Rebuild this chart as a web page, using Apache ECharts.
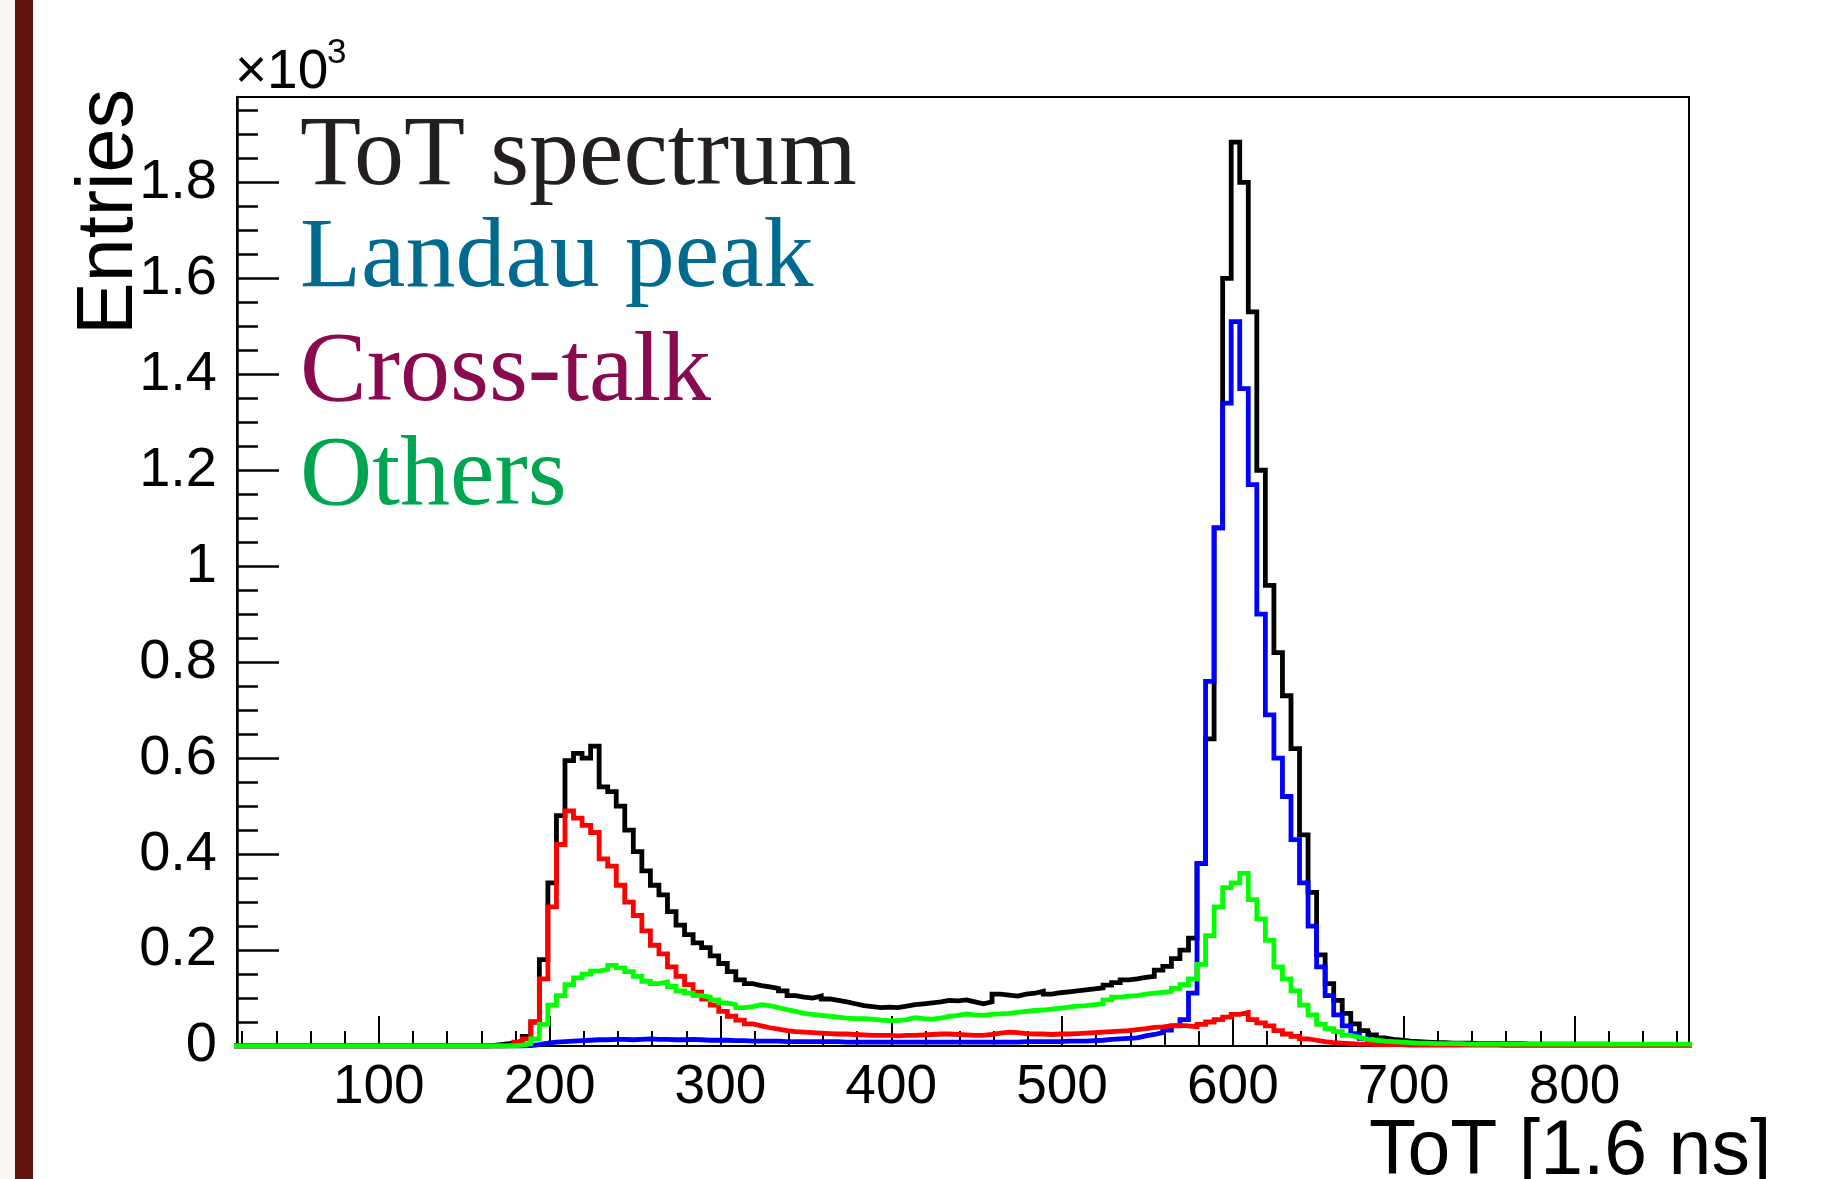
<!DOCTYPE html>
<html>
<head>
<meta charset="utf-8">
<script src="https://cdn.jsdelivr.net/npm/echarts@6/dist/echarts.min.js"></script>
<style>
html,body{margin:0;padding:0;background:#fff;}
#chart{width:1839px;height:1179px;}
</style>
</head>
<body>
<div id="chart"></div>
<script>
// Histogram binning (ToT units): bin k covers [BIN_START + k*BIN_WIDTH, +BIN_WIDTH)
const BIN_START = 14;
const BIN_WIDTH = 5;

// Entries per bin
const totSpectrum = [
  0,0,0,0,0,0,0,0,0,0, 0,0,0,0,0,0,0,0,0,0, 0,0,0,0,0,0,0,0,0,0,
  2,4,6,10,20,50,180,340,480,595,
  610,600,625,540,530,500,450,405,365,335,
  315,280,252,232,215,205,188,172,155,138,
  130,126,123,120,115,105,102,100,104,98,
  95,92,88,84,82,80,81,80,83,86,
  88,90,92,95,94,96,92,88,92,108,
  106,104,108,110,114,108,111,113,115,117,
  119,121,127,132,138,140,143,145,158,166,
  182,200,225,380,640,1080,1600,1884,1800,1530,
  1200,960,820,730,620,440,320,190,130,95,
  68,46,32,23,17,14,12,10,9,8,
  7,7,6,6,6,5,5,5,5,5,
  5,4,4,4,4,4,4,4,4,4,
  4,3,3,3,3,3,3,3,3,3,
  3
];
const landauPeak = [
  0,0,0,0,0,0,0,0,0,0, 0,0,0,0,0,0,0,0,0,0, 0,0,0,0,0,0,0,0,0,0,
  0,0,0,0,1,3,6,8,9,10,
  11,12,13,13,14,14,13,14,15,14,
  14,13,13,14,13,12,12,12,11,11,
  10,10,10,10,9,9,9,9,9,9,
  9,8,8,8,8,8,8,8,8,8,
  8,8,8,8,8,8,8,8,8,8,
  8,8,9,9,9,9,9,10,10,10,
  11,12,14,15,16,17,21,24,28,33,
  42,55,110,380,760,1080,1340,1510,1370,1170,
  900,690,600,520,430,340,250,165,105,65,
  42,26,16,11,8,6,5,5,4,4,
  3,3,3,3,3,3,3,3,2,2,
  2,2,2,2,2,2,2,2,2,2,
  2,2,2,2,2,2,2,2,2,2,
  2
];
const crossTalk = [
  0,0,0,0,0,0,0,0,0,0, 0,0,0,0,0,0,0,0,0,0, 0,0,0,0,0,0,0,0,0,0,
  0,0,3,8,15,50,140,290,420,490,
  475,460,445,390,375,335,300,272,240,210,
  192,165,145,128,112,98,85,72,62,54,
  46,42,38,35,32,30,29,28,27,26,
  25,25,24,23,22,22,22,21,22,22,
  23,24,25,25,24,23,22,22,24,27,
  29,28,26,25,25,24,25,25,26,27,
  28,29,30,31,32,34,36,39,40,42,
  43,42,40,45,50,55,60,66,70,55,
  48,42,32,25,20,15,12,9,7,6,
  5,4,4,3,3,3,3,2,2,2,
  2,2,2,2,2,2,2,2,2,2,
  2,2,2,2,2,2,2,2,2,2,
  2,2,2,2,2,2,2,2,2,2,
  2
];
const others = [
  0,0,0,0,0,0,0,0,0,0, 0,0,0,0,0,0,0,0,0,0, 0,0,0,0,0,0,0,0,0,0,
  0,0,0,2,5,15,45,85,105,128,
  142,150,156,160,168,163,155,145,135,130,
  133,124,115,110,105,102,96,90,86,80,
  82,86,84,80,76,72,68,66,64,62,
  60,58,57,57,56,54,53,53,55,59,
  57,56,58,62,64,67,65,64,66,67,
  68,70,72,74,75,77,79,81,83,84,
  86,88,96,102,104,105,108,110,112,114,
  120,128,140,170,230,290,330,340,360,305,
  265,220,165,140,115,85,65,45,36,30,
  22,18,14,12,10,9,8,7,6,6,
  5,5,5,5,4,4,4,4,4,4,
  4,4,4,4,4,4,4,4,4,4,
  4,4,4,4,4,4,4,4,4,4,
  4
];

const xMajorTicks = [100,200,300,400,500,600,700,800];
const xMinorTicks = [20,40,60,80,100,120,140,160,180,200,220,240,260,280,300,320,340,360,380,400,420,440,460,480,500,520,540,560,580,600,620,640,660,680,700,720,740,760,780,800,820,840,860];
const yMajorTicks = [0,200,400,600,800,1000,1200,1400,1600,1800];
const yMinorTicks = [0,50,100,150,200,250,300,350,400,450,500,550,600,650,700,750,800,850,900,950,1000,1050,1100,1150,1200,1250,1300,1350,1400,1450,1500,1550,1600,1650,1700,1750,1800,1850,1900,1950];

const X_MIN = 17, X_MAX = 867, Y_MAX = 1978;

const legendItems = [
  {text:'ToT spectrum', color:'#231f20'},
  {text:'Landau peak', color:'#006a8f'},
  {text:'Cross-talk', color:'#8a0a50'},
  {text:'Others', color:'#00a551'}
];

function toSteps(vals){
  const pts = vals.map((v,k)=>[BIN_START + k*BIN_WIDTH, v]);
  pts.push([BIN_START + vals.length*BIN_WIDTH, vals[vals.length-1]]);
  return pts;
}

const chart = echarts.init(document.getElementById('chart'), null, {renderer:'canvas'});
const tickFont = 'Liberation Sans';
const lineW = 4.8;

function histSeries(name, vals, color){
  return {
    name, type:'line', step:'end', data: toSteps(vals), showSymbol:false, symbol:'none',
    lineStyle:{color, width:lineW, join:'miter'}, itemStyle:{color}, animation:false, clip:true
  };
}

const legendBaselines = [184, 286, 400, 504];
const graphics = [
  {type:'rect', shape:{x:0,y:0,width:15,height:1179}, style:{fill:'#f9f6f1'}},
  {type:'rect', shape:{x:15,y:0,width:18,height:1179}, style:{fill:'#64140e'}},
  {type:'text', x:110, y:212, rotation:Math.PI/2,
    style:{text:'Entries', font:'79px "Liberation Sans"', fill:'#000', align:'center', verticalAlign:'middle'}},
  {type:'text', x:235, y:73,
    style:{text:'\u00d710', font:'55px "Liberation Sans"', fill:'#000', align:'left', verticalAlign:'middle'}},
  {type:'text', x:327, y:53,
    style:{text:'3', font:'35px "Liberation Sans"', fill:'#000', align:'left', verticalAlign:'middle'}},
  {type:'text', x:1369, y:1153,
    style:{text:'ToT [1.6 ns]', font:'77px "Liberation Sans"', fill:'#000', align:'left', verticalAlign:'middle'}}
];
legendItems.forEach((it,i)=>{
  graphics.push({type:'text', x:300, y:legendBaselines[i]-26,
    style:{text:it.text, font:'100px "Liberation Serif"', fill:it.color, align:'left', verticalAlign:'middle'}});
});

const option = {
  backgroundColor:'#ffffff',
  animation:false,
  grid:{left:237, top:97, width:1452, height:949, show:true, borderColor:'#000', borderWidth:2, backgroundColor:'transparent', containLabel:false},
  xAxis:[
    {type:'value', min:X_MIN, max:X_MAX, position:'bottom',
      axisLine:{show:true, lineStyle:{color:'#000', width:2}},
      axisTick:{show:true, inside:true, length:30, customValues:xMajorTicks, lineStyle:{color:'#000', width:2}},
      axisLabel:{show:true, customValues:xMajorTicks, margin:14, fontSize:55, fontFamily:tickFont, color:'#000'},
      splitLine:{show:false}},
    {type:'value', min:X_MIN, max:X_MAX, position:'bottom',
      axisLine:{show:false},
      axisTick:{show:true, inside:true, length:15, customValues:xMinorTicks, lineStyle:{color:'#000', width:2}},
      axisLabel:{show:false},
      splitLine:{show:false}}
  ],
  yAxis:[
    {type:'value', min:0, max:Y_MAX, position:'left',
      axisLine:{show:true, lineStyle:{color:'#000', width:2.5}},
      axisTick:{show:true, inside:true, length:42, customValues:yMajorTicks, lineStyle:{color:'#000', width:2.5}},
      axisLabel:{show:true, customValues:yMajorTicks, margin:20, fontSize:56, fontFamily:tickFont, color:'#000',
        formatter:(v)=>String(Math.round(v/100)/10)},
      splitLine:{show:false}},
    {type:'value', min:0, max:Y_MAX, position:'left',
      axisLine:{show:false},
      axisTick:{show:true, inside:true, length:21, customValues:yMinorTicks, lineStyle:{color:'#000', width:2.5}},
      axisLabel:{show:false},
      splitLine:{show:false}}
  ],
  series:[
    histSeries('ToT spectrum', totSpectrum, '#000000'),
    histSeries('Landau peak', landauPeak, '#0000ff'),
    histSeries('Cross-talk', crossTalk, '#ff0000'),
    histSeries('Others', others, '#00ff00')
  ],
  graphic: graphics
};
chart.setOption(option);
</script>
</body>
</html>
